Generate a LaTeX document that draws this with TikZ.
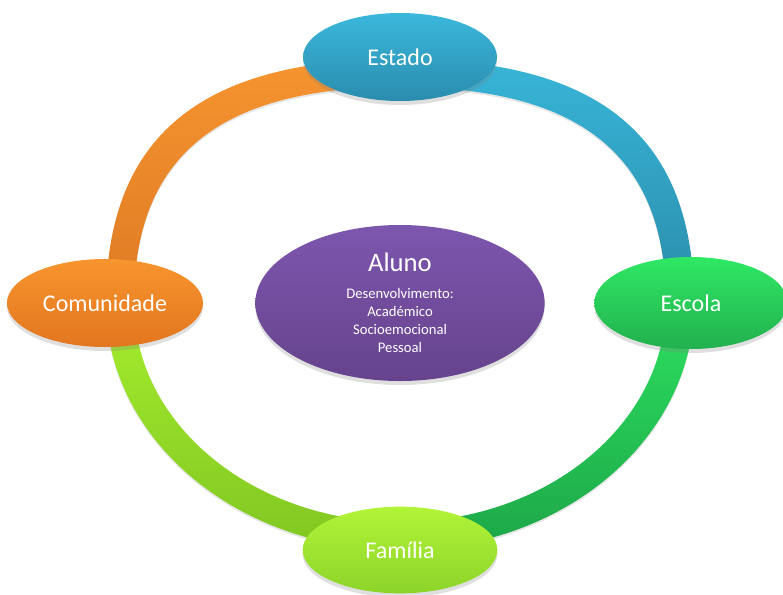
\documentclass[tikz,border=0pt]{standalone}
\usepackage{fontspec}
\setmainfont{Carlito}
\usetikzlibrary{shapes.geometric,shadows}

\definecolor{estadoA}{HTML}{3BB8DC}
\definecolor{estadoB}{HTML}{2A8CAE}
\definecolor{comunA}{HTML}{F8952E}
\definecolor{comunB}{HTML}{E2761F}
\definecolor{escolaA}{HTML}{2FE864}
\definecolor{escolaB}{HTML}{22B04E}
\definecolor{familiaA}{HTML}{B2F438}
\definecolor{familiaB}{HTML}{8CD42A}
\definecolor{alunoA}{HTML}{7D56AE}
\definecolor{alunoB}{HTML}{66438C}
\definecolor{orangeA}{HTML}{F6942F}
\definecolor{orangeB}{HTML}{DE7A24}
\definecolor{blueA}{HTML}{38B5D8}
\definecolor{blueB}{HTML}{2A8CAA}
\definecolor{limeA}{HTML}{A6EE2E}
\definecolor{limeB}{HTML}{80C622}
\definecolor{greenA}{HTML}{2DE160}
\definecolor{greenB}{HTML}{1DA648}

\tikzset{
  bubble/.style={ellipse, inner sep=0pt, text=white,
    font=\fontsize{18}{21}\selectfont,
    drop shadow={shadow xshift=0pt, shadow yshift=-3pt, opacity=.25}},
  ringshadow/.style={drop shadow={shadow xshift=0pt, shadow yshift=-1.5pt, opacity=.2}},
}

\begin{document}
\begin{tikzpicture}[x=0.75pt,y=-0.75pt]
\useasboundingbox (0,0) rectangle (783,594);

% ring, one quarter per colour
\foreach \sx/\sy/\k/\b/\ca/\cb in {-1/-1/0.68/230/orangeA/orangeB, 1/-1/0.68/230/blueA/blueB,
                                   -1/1/0.552/233/limeA/limeB, 1/1/0.552/233/greenA/greenB}
  \shade[top color=\ca, bottom color=\cb, ringshadow]
    ({400+\sx*294},303) .. controls ({400+\sx*294},{303+\sy*(\b+14)*\k}) and ({400+\sx*294*\k},{303+\sy*(\b+14)}) .. (400,{303+\sy*(\b+14)})
    -- (400,{303+\sy*(\b-14)}) .. controls ({400+\sx*266*\k},{303+\sy*(\b-14)}) and ({400+\sx*266},{303+\sy*(\b-14)*\k}) .. ({400+\sx*266},303)
    -- cycle;

\node[bubble, top color=estadoA, bottom color=estadoB, minimum width=145.5pt, minimum height=66pt] (estado) at (400,57) {Estado};
\node[bubble, top color=comunA, bottom color=comunB, minimum width=147pt, minimum height=66pt] (comunidade) at (105,303) {Comunidade};
\node[bubble, top color=escolaA, bottom color=escolaB, minimum width=145pt, minimum height=69pt] (escola) at (691,303) {Escola};
\node[bubble, top color=familiaA, bottom color=familiaB, minimum width=146pt, minimum height=65pt] (familia) at (400,550) {Família};
\node[bubble, top color=alunoA, bottom color=alunoB, minimum width=217pt, minimum height=117pt,
  align=center, font=\fontsize{11}{13.5}\selectfont] (aluno) at (400,303)
  {{\fontsize{20}{24}\selectfont Aluno}\\[7pt]Desenvolvimento:\\Académico\\Socioemocional\\Pessoal};
\end{tikzpicture}
\end{document}
